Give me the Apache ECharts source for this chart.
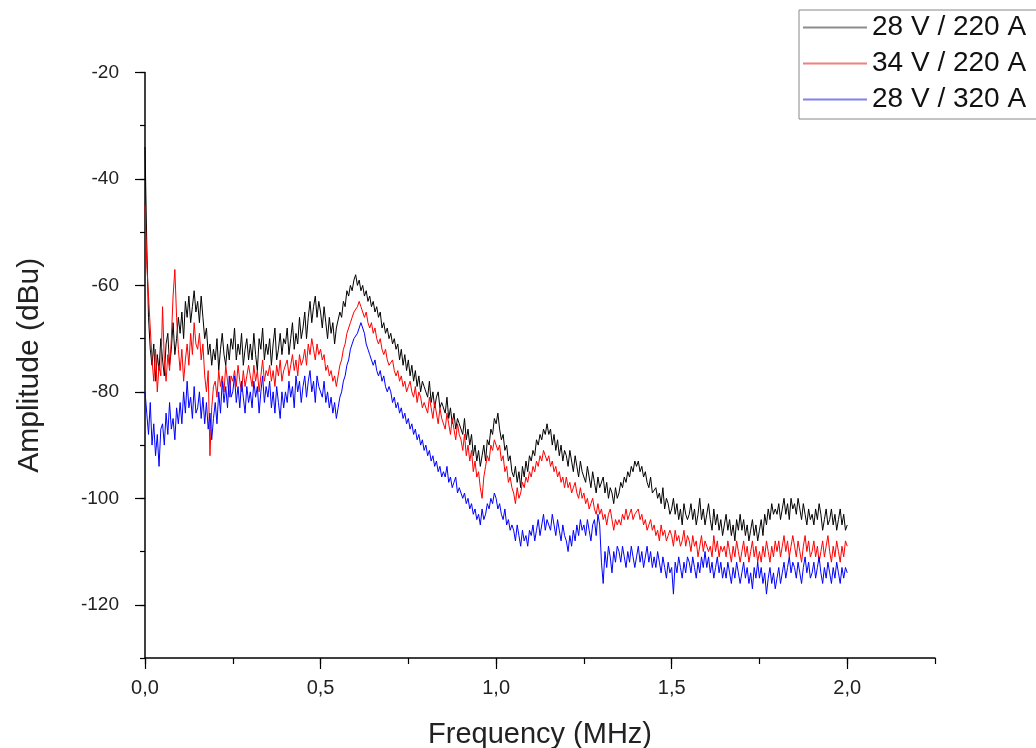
<!DOCTYPE html>
<html>
<head>
<meta charset="utf-8">
<script src="https://cdn.jsdelivr.net/npm/echarts@6/dist/echarts.min.js"></script>
<style>html,body{margin:0;padding:0;background:#fff;}#c{width:1036px;height:748px;}</style>
</head>
<body>
<div id="c"></div>
<script>
// Frequency sampling grid (MHz): 0.000 .. 2.000, step 0.005
const FREQ_STEP = 0.005;
const FREQ_COUNT = 401;
const seriesNames = ['28 V / 220 A', '34 V / 220 A', '28 V / 320 A'];
const xTickLabels = ['0,0', '0,5', '1,0', '1,5', '2,0'];
const yTickLabels = ['-20', '-40', '-60', '-80', '-100', '-120'];

// 28 V / 220 A (dBu), 10 values per 0.05 MHz
const black = [
-34,-52,-66,-72,-75,-71,-78,-73,-76,-70,
-74,-77,-71,-69,-75,-72,-67,-73,-70,-66,
-69,-65,-70,-63,-66,-62,-67,-64,-61,-65,
-63,-67,-62,-66,-70,-68,-73,-71,-75,-72,
-74,-70,-76,-72,-69,-73,-75,-71,-74,-70,
-72,-68,-74,-71,-73,-69,-75,-72,-70,-74,
-71,-74,-69,-73,-76,-70,-72,-68,-74,-71,
-73,-70,-75,-71,-68,-74,-72,-69,-73,-70,
-71,-68,-73,-70,-67,-72,-69,-71,-66,-70,
-68,-65,-70,-66,-63,-67,-64,-62,-66,-63,
-65,-68,-64,-67,-70,-66,-69,-67,-71,-68,
-68,-65,-66,-63,-64,-61,-62,-60,-61,-59,
-58,-60,-59,-61,-60,-62,-61,-63,-62,-64,
-63,-65,-64,-66,-65,-68,-67,-69,-68,-70,
-69,-71,-70,-72,-71,-74,-72,-75,-73,-76,
-74,-77,-75,-78,-76,-79,-77,-80,-78,-79,
-79,-81,-78,-82,-80,-83,-81,-80,-83,-82,
-82,-84,-81,-85,-83,-86,-84,-87,-85,-86,
-86,-88,-85,-89,-87,-90,-88,-92,-90,-93,
-91,-94,-92,-90,-93,-89,-90,-87,-88,-85,
-86,-84,-87,-89,-88,-91,-90,-93,-92,-95,
-96,-94,-97,-95,-98,-94,-96,-93,-95,-92,
-93,-91,-92,-89,-90,-88,-89,-87,-88,-86,
-88,-87,-90,-88,-91,-89,-92,-90,-93,-91,
-92,-94,-91,-93,-95,-92,-94,-96,-93,-95,
-95,-97,-94,-96,-98,-95,-97,-99,-96,-98,
-98,-96,-99,-97,-100,-98,-99,-101,-98,-100,
-99,-97,-98,-96,-97,-95,-96,-94,-95,-93,
-94,-93,-95,-94,-96,-95,-97,-98,-96,-99,
-99,-98,-100,-99,-101,-98,-102,-100,-101,-103,
-102,-100,-103,-101,-104,-102,-105,-101,-103,-104,
-103,-101,-104,-102,-105,-103,-100,-104,-102,-105,
-103,-101,-104,-106,-102,-105,-103,-106,-104,-107,
-105,-103,-106,-104,-107,-105,-108,-104,-106,-103,
-106,-104,-107,-105,-108,-106,-104,-107,-105,-108,
-106,-104,-107,-103,-105,-102,-104,-101,-103,-102,
-103,-101,-104,-102,-100,-103,-101,-104,-100,-102,
-101,-103,-100,-102,-104,-101,-103,-105,-102,-104,
-103,-105,-102,-104,-101,-103,-106,-104,-102,-105,
-104,-102,-105,-103,-106,-104,-102,-105,-103,-106,
-105
];

// 34 V / 220 A (dBu)
const red = [
-45,-56,-62,-68,-74,-78,-72,-80,-75,-77,
-64,-74,-78,-73,-76,-70,-62,-57,-66,-72,
-76,-72,-78,-74,-71,-75,-69,-73,-67,-71,
-72,-69,-74,-71,-77,-80,-76,-92,-83,-79,
-78,-81,-76,-79,-77,-80,-75,-78,-81,-77,
-78,-76,-79,-75,-78,-80,-76,-79,-77,-75,
-77,-79,-75,-78,-76,-80,-77,-74,-78,-76,
-77,-75,-78,-76,-79,-75,-77,-74,-78,-76,
-76,-74,-77,-75,-73,-76,-74,-77,-73,-75,
-74,-72,-75,-71,-73,-70,-72,-74,-71,-73,
-72,-74,-73,-76,-75,-77,-76,-78,-77,-79,
-77,-75,-74,-72,-71,-69,-68,-67,-66,-65,
-65,-64,-63,-64,-65,-66,-65,-67,-68,-67,
-69,-68,-70,-71,-70,-72,-73,-72,-74,-75,
-75,-74,-76,-77,-76,-78,-77,-79,-78,-80,
-79,-78,-80,-81,-79,-82,-80,-81,-83,-82,
-82,-84,-81,-83,-85,-82,-84,-86,-83,-85,
-85,-87,-84,-86,-88,-85,-87,-89,-86,-88,
-89,-91,-88,-92,-90,-93,-91,-95,-93,-96,
-95,-98,-100,-96,-94,-92,-93,-90,-91,-89,
-89,-91,-90,-93,-92,-95,-94,-97,-96,-98,
-99,-101,-98,-100,-99,-97,-98,-96,-97,-95,
-96,-94,-95,-93,-94,-92,-93,-91,-92,-93,
-92,-94,-93,-95,-94,-96,-95,-97,-96,-98,
-96,-98,-97,-99,-98,-97,-99,-100,-98,-100,
-99,-101,-100,-102,-101,-100,-102,-103,-101,-103,
-102,-104,-103,-105,-103,-102,-104,-106,-104,-105,
-104,-105,-103,-104,-102,-104,-103,-102,-104,-103,
-103,-102,-104,-103,-105,-104,-106,-105,-104,-106,
-105,-107,-106,-108,-105,-107,-106,-108,-107,-106,
-107,-109,-106,-108,-107,-109,-108,-106,-109,-107,
-108,-110,-107,-109,-108,-111,-109,-107,-110,-108,
-108,-110,-109,-111,-107,-110,-108,-111,-109,-110,
-109,-111,-108,-110,-112,-109,-111,-108,-110,-112,
-110,-108,-111,-109,-112,-110,-108,-111,-109,-112,
-110,-112,-109,-111,-108,-110,-112,-109,-111,-108,
-110,-108,-111,-109,-107,-110,-108,-111,-109,-107,
-109,-111,-108,-110,-112,-109,-107,-110,-108,-111,
-110,-108,-111,-109,-112,-110,-108,-111,-109,-107,
-110,-112,-109,-111,-108,-110,-112,-109,-111,-108,
-109
];

// 28 V / 320 A (dBu)
const blue = [
-80,-84,-88,-82,-90,-86,-92,-88,-94,-87,
-86,-90,-84,-88,-82,-87,-85,-89,-83,-86,
-82,-86,-80,-84,-78,-83,-81,-85,-79,-84,
-83,-80,-85,-81,-86,-82,-87,-84,-89,-85,
-82,-86,-80,-84,-78,-82,-79,-83,-77,-81,
-80,-77,-82,-79,-83,-78,-81,-84,-79,-82,
-80,-83,-78,-81,-79,-84,-80,-77,-82,-79,
-81,-78,-83,-80,-84,-79,-82,-85,-80,-83,
-80,-82,-78,-81,-79,-83,-77,-80,-78,-82,
-79,-77,-81,-78,-76,-80,-78,-82,-77,-79,
-79,-81,-78,-82,-80,-83,-81,-84,-82,-85,
-83,-81,-80,-78,-77,-75,-74,-72,-71,-70,
-70,-69,-68,-67,-68,-69,-71,-72,-73,-74,
-75,-74,-76,-77,-76,-78,-77,-79,-80,-79,
-80,-82,-81,-83,-82,-84,-83,-85,-84,-86,
-85,-87,-86,-88,-87,-89,-88,-90,-89,-91,
-90,-92,-91,-93,-92,-94,-93,-95,-94,-96,
-95,-96,-94,-97,-96,-98,-97,-96,-99,-98,
-98,-100,-99,-101,-100,-102,-101,-103,-102,-104,
-103,-105,-102,-104,-103,-101,-102,-100,-101,-99,
-100,-102,-101,-103,-104,-102,-105,-104,-106,-105,
-106,-108,-105,-107,-109,-106,-108,-107,-109,-106,
-107,-105,-108,-106,-104,-107,-105,-103,-106,-104,
-104,-106,-103,-105,-107,-104,-106,-108,-105,-107,
-108,-110,-107,-109,-106,-108,-105,-107,-104,-106,
-105,-107,-104,-106,-108,-105,-104,-107,-103,-105,
-112,-116,-110,-113,-109,-111,-114,-110,-112,-109,
-110,-112,-109,-111,-113,-110,-112,-109,-111,-113,
-111,-109,-112,-110,-113,-111,-109,-112,-110,-113,
-111,-113,-110,-112,-114,-111,-113,-115,-112,-114,
-113,-118,-112,-114,-111,-113,-115,-112,-114,-111,
-112,-114,-111,-113,-115,-112,-114,-111,-113,-110,
-113,-111,-114,-112,-115,-113,-111,-114,-112,-115,
-113,-115,-112,-114,-116,-113,-115,-112,-114,-116,
-114,-112,-115,-113,-116,-114,-117,-113,-115,-112,
-115,-113,-116,-114,-118,-115,-113,-116,-114,-117,
-115,-113,-116,-114,-112,-115,-113,-111,-114,-112,
-113,-115,-112,-114,-116,-113,-111,-114,-112,-115,
-114,-112,-115,-113,-111,-114,-116,-113,-115,-112,
-114,-116,-113,-115,-112,-114,-116,-113,-115,-113,
-114
];

const seriesColors = ['#000000', '#ff0000', '#0000ff'];
const legendColors = ['#8c8c8c', '#ee8080', '#8080ee'];

const freq = [];
for (let i = 0; i < FREQ_COUNT; i++) freq.push(+(i * FREQ_STEP).toFixed(3));
const pairs = arr => arr.map((v, i) => [freq[i], v]);

const FONT = 'Liberation Sans, Arial, sans-serif';
const chart = echarts.init(document.getElementById('c'), null, {renderer: 'canvas'});
const axisLineStyle = {color: '#000', width: 1.5};

chart.setOption({
  animation: false,
  backgroundColor: '#fff',
  grid: {left: 145, right: 101, top: 72.5, bottom: 90, containLabel: false, outerBoundsMode: 'none'},
  legend: {
    orient: 'vertical',
    left: 799, top: 10,
    data: seriesNames.map((n, i) => ({name: n, icon: 'rect', itemStyle: {color: legendColors[i], opacity: 1, borderWidth: 0}})),
    itemWidth: 64, itemHeight: 2, itemGap: 5,
    padding: [2, 30, 4, 4],
    borderColor: '#888', borderWidth: 1,
    textStyle: {fontFamily: FONT, fontSize: 28, color: '#111', lineHeight: 31},
    selectedMode: false
  },
  xAxis: [{
    type: 'value', min: 0, max: 2.25, interval: 0.25,
    name: 'Frequency (MHz)', nameLocation: 'middle', nameGap: 62,
    nameTextStyle: {fontFamily: FONT, fontSize: 29, color: '#222'},
    axisLine: {show: true, onZero: false, lineStyle: axisLineStyle},
    axisTick: {show: true, inside: false, length: 6, lineStyle: {color: '#000', width: 1.2}},
    axisLabel: {
      margin: 20, fontFamily: FONT, fontSize: 20, color: '#222',
      formatter: v => {
        const k = v / 0.5;
        if (Math.abs(k - Math.round(k)) < 1e-6 && v <= 2.0001) return xTickLabels[Math.round(k)];
        return '';
      }
    },
    splitLine: {show: false}
  }, {
    type: 'value', min: 0, max: 2.25, position: 'bottom', offset: 0,
    axisLine: {show: false, onZero: false},
    axisTick: {show: true, inside: false, length: 11, customValues: [0, 0.5, 1, 1.5, 2], lineStyle: {color: '#000', width: 1.2}},
    axisLabel: {show: false},
    splitLine: {show: false}
  }],
  yAxis: [{
    type: 'value', min: -130, max: -20, interval: 10, position: 'left',
    name: 'Amplitude (dBu)', nameLocation: 'middle', nameGap: 100, nameRotate: 90,
    nameTextStyle: {fontFamily: FONT, fontSize: 30, color: '#222'},
    axisLine: {show: true, onZero: false, lineStyle: axisLineStyle},
    axisTick: {show: true, inside: false, length: 5, lineStyle: {color: '#000', width: 1.2}},
    axisLabel: {
      margin: 26, fontFamily: FONT, fontSize: 19, color: '#222',
      formatter: v => {
        if (Math.round(v) % 20 === 0) return yTickLabels[(-20 - Math.round(v)) / 20];
        return '';
      }
    },
    splitLine: {show: false}
  }, {
    type: 'value', min: -130, max: -20, position: 'left', offset: 0,
    axisLine: {show: false, onZero: false},
    axisTick: {show: true, inside: false, length: 10, customValues: [-120, -100, -80, -60, -40, -20], lineStyle: {color: '#000', width: 1.2}},
    axisLabel: {show: false},
    splitLine: {show: false}
  }],
  series: [
    {name: seriesNames[0], type: 'line', data: pairs(black), symbol: 'none', lineStyle: {color: seriesColors[0], width: 1}, itemStyle: {color: seriesColors[0]}},
    {name: seriesNames[1], type: 'line', data: pairs(red), symbol: 'none', lineStyle: {color: seriesColors[1], width: 1}, itemStyle: {color: seriesColors[1]}},
    {name: seriesNames[2], type: 'line', data: pairs(blue), symbol: 'none', lineStyle: {color: seriesColors[2], width: 1}, itemStyle: {color: seriesColors[2]}}
  ]
});
</script>
</body>
</html>
